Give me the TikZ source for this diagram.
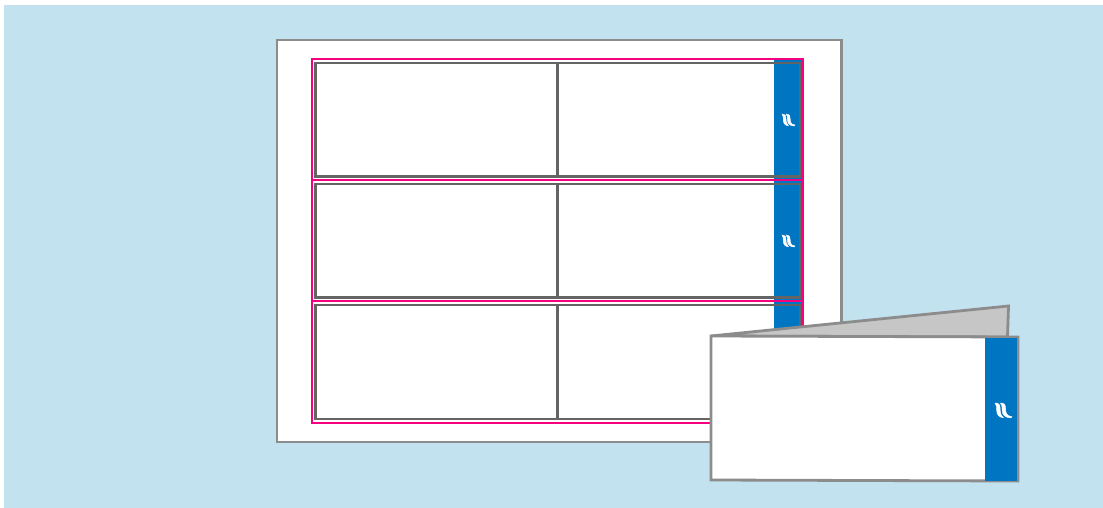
\documentclass[tikz,border=0pt]{standalone}
\definecolor{skyback}{HTML}{C3E2F0}
\definecolor{edgegray}{HTML}{8C8C8C}
\definecolor{cardgray}{HTML}{646464}
\definecolor{flapgray}{HTML}{C6C6C6}
\definecolor{bandblue}{HTML}{0075C2}
\definecolor{cutpink}{HTML}{F5007F}
\tikzset{
  sheet/.style={draw=edgegray,line width=2.8pt,fill=white,line join=miter},
  cutline/.style={draw=cutpink,line width=2.7pt},
  cardline/.style={draw=cardgray,line width=2.8pt},
  band/.style={fill=bandblue,draw=none},
  logomark/.pic={
    \filldraw[white,line width=.4pt] (0,1) .. controls (.2,1) and (.3,.92) .. (.3,.65)
      .. controls (.3,.4) and (.33,.15) .. (.5,.02)
      .. controls (.25,.04) and (.1,.2) .. (.1,.5)
      .. controls (.1,.75) and (.08,.9) .. (0,1) -- cycle;
    \filldraw[white,line width=.4pt] (.32,1) .. controls (.52,1) and (.62,.92) .. (.62,.65)
      .. controls (.62,.4) and (.64,.14) .. (1,.08)
      .. controls (.98,.05) and (.96,.02) .. (.92,0)
      .. controls (.62,.02) and (.42,.2) .. (.42,.5)
      .. controls (.42,.75) and (.4,.9) .. (.32,1) -- cycle;
  }
}
\begin{document}
\begin{tikzpicture}[x=1pt,y=-1pt]
\useasboundingbox (0,0) rectangle (1103,508);
\fill[white] (0,0) rectangle (1103,508);
\fill[skyback] (4,5) rectangle (1103,508);
\coordinate (logoa) at (782,126);
\coordinate (logob) at (782,247);
\coordinate (logoc) at (995,418);
% sheet
\path[sheet] (277,40) rectangle (841.7,442);
% blue tabs
\path[band] (774,59) rectangle (803,335);
% pink cut lines
\path[cutline] (312,59) rectangle (803,423);
\draw[cutline] (312,180) -- (803,180);
\draw[cutline] (312,301) -- (803,301);
% cards
\path[cardline] (315.7,63) rectangle (800,176.5);
\path[cardline] (315.7,184) rectangle (800,297.5);
\path[cardline] (315.7,305) rectangle (800,419);
\draw[cardline] (557.7,63) -- (557.7,176.5);
\draw[cardline] (557.7,184) -- (557.7,297.5);
\draw[cardline] (557.7,305) -- (557.7,419);
% logos
\pic[x=13pt,y=12pt] at (logoa) {logomark};
\pic[x=13pt,y=12pt] at (logob) {logomark};
% folded card
\path[sheet,fill=flapgray] (711,336) -- (1008.5,306) -- (1007.5,337) -- cycle;
\path[sheet] (711,336) -- (1018,337) -- (1018,481) -- (711,480) -- cycle;
\path[band] (985,338) rectangle (1017,481);
\draw[edgegray,line width=2.8pt] (985,337) -- (1018,337) -- (1018,481);
\pic[x=17pt,y=15pt] at (logoc) {logomark};
\end{tikzpicture}
\end{document}
